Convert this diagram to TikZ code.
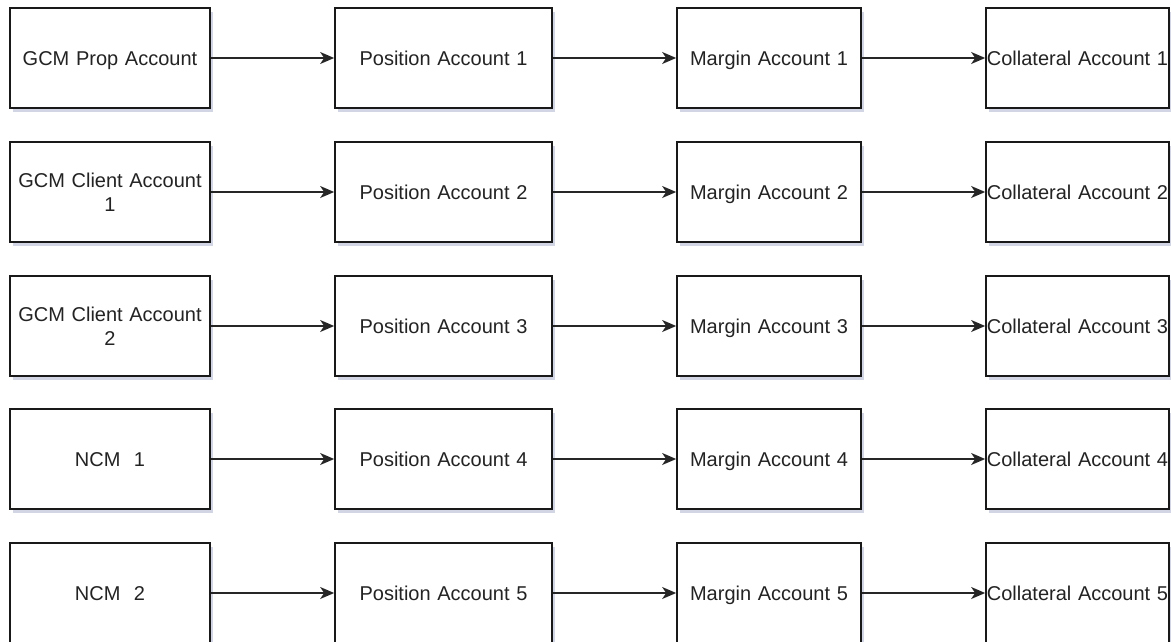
\documentclass[tikz,border=0pt]{standalone}
\usepackage{fontspec}
\setmainfont{Liberation Sans}
\usetikzlibrary{arrows.meta,shadows}
\definecolor{shadowcol}{RGB}{180,185,210}
\definecolor{txtcol}{RGB}{35,35,35}
\newcommand{\acctstrut}{\rule[-4.5pt]{0pt}{23.3pt}}
\tikzset{
  acct/.style={draw=black!90, line width=1.7pt, fill=white, inner sep=0pt,
    minimum height=100pt, align=center, text=txtcol,
    font=\fontsize{20}{24}\selectfont,
    execute at begin node=\acctstrut, execute at end node=\acctstrut,
    drop shadow={shadow xshift=3pt, shadow yshift=-4pt, fill=shadowcol, opacity=0.6}},
  conn/.style={draw=black!85, line width=1.5pt,
    -{Stealth[length=14pt,width=12pt,inset=4pt]}},
}
\begin{document}
\begin{tikzpicture}[x=1pt,y=-1pt]
\useasboundingbox (0,0) rectangle (1171,642);
% rows: 58, 192, 326, 459, 593
% column 1
\node[acct, minimum width=200pt, text width=196pt] (g1) at (110,58) {GCM Prop Account};
\node[acct, minimum width=200pt, text width=196pt] (g2) at (110,192) {GCM Client Account\\1};
\node[acct, minimum width=200pt, text width=196pt] (g3) at (110,326) {GCM Client Account\\2};
\node[acct, minimum width=200pt, text width=196pt] (g4) at (110,459) {NCM\ \ 1};
\node[acct, minimum width=200pt, text width=196pt] (g5) at (110,593) {NCM\ \ 2};
% column 2
\node[acct, minimum width=217pt, text width=213pt] (p1) at (443.5,58) {Position Account 1};
\node[acct, minimum width=217pt, text width=213pt] (p2) at (443.5,192) {Position Account 2};
\node[acct, minimum width=217pt, text width=213pt] (p3) at (443.5,326) {Position Account 3};
\node[acct, minimum width=217pt, text width=213pt] (p4) at (443.5,459) {Position Account 4};
\node[acct, minimum width=217pt, text width=213pt] (p5) at (443.5,593) {Position Account 5};
% column 3
\node[acct, minimum width=184pt, text width=182pt] (m1) at (769,58) {Margin Account 1};
\node[acct, minimum width=184pt, text width=182pt] (m2) at (769,192) {Margin Account 2};
\node[acct, minimum width=184pt, text width=182pt] (m3) at (769,326) {Margin Account 3};
\node[acct, minimum width=184pt, text width=182pt] (m4) at (769,459) {Margin Account 4};
\node[acct, minimum width=184pt, text width=182pt] (m5) at (769,593) {Margin Account 5};
% column 4
\node[acct, minimum width=183pt, text width=182pt] (c1) at (1077.5,58) {Collateral Account 1};
\node[acct, minimum width=183pt, text width=182pt] (c2) at (1077.5,192) {Collateral Account 2};
\node[acct, minimum width=183pt, text width=182pt] (c3) at (1077.5,326) {Collateral Account 3};
\node[acct, minimum width=183pt, text width=182pt] (c4) at (1077.5,459) {Collateral Account 4};
\node[acct, minimum width=183pt, text width=182pt] (c5) at (1077.5,593) {Collateral Account 5};
% connectors
\foreach \i in {1,...,5}{
  \draw[conn] (g\i.east) -- (p\i.west);
  \draw[conn] (p\i.east) -- (m\i.west);
  \draw[conn] (m\i.east) -- (c\i.west);
}
\end{tikzpicture}
\end{document}
